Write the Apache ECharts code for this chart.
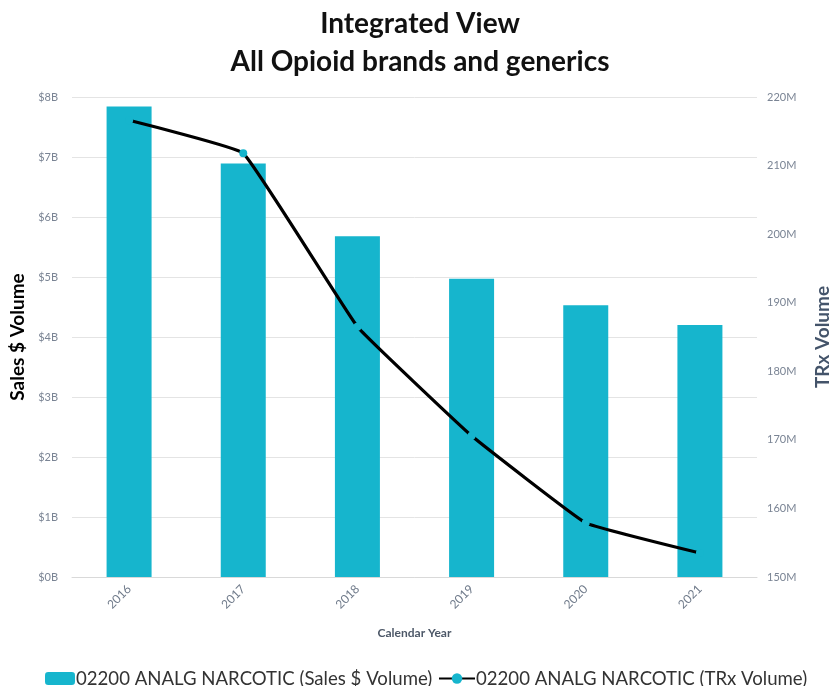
<!DOCTYPE html>
<html>
<head>
<meta charset="utf-8">
<script src="https://cdn.jsdelivr.net/npm/echarts@6/dist/echarts.min.js"></script>
<style>
  html, body { margin: 0; padding: 0; background: #ffffff; }
  #chart { width: 840px; height: 686px; }
</style>
</head>
<body>
<div id="chart"></div>
<script>
// Calendar years on the category axis
const years = ['2016', '2017', '2018', '2019', '2020', '2021'];
// Sales volume in billions of dollars (bars, left axis)
const salesBillions = [7.84, 6.89, 5.68, 4.97, 4.53, 4.20];
// Total prescriptions in millions (line, right axis)
const trxMillions = [216.6, 211.8, 186.5, 170.6, 157.9, 153.5];

const salesName = '02200 ANALG NARCOTIC (Sales $ Volume)';
const trxName = '02200 ANALG NARCOTIC (TRx Volume)';

const cyan = '#16b5cd';
const baseFont = 'Lato, "Open Sans", sans-serif';

const chart = echarts.init(document.getElementById('chart'), null, { renderer: 'canvas' });

chart.setOption({
  animation: false,
  backgroundColor: '#ffffff',
  textStyle: { fontFamily: baseFont },
  title: {
    text: 'Integrated View\nAll Opioid brands and generics',
    left: 'center',
    top: 0,
    textStyle: {
      fontFamily: baseFont,
      fontWeight: 'bold',
      fontSize: 28,
      lineHeight: 38,
      color: '#111111'
    }
  },
  legend: [
    {
      data: [salesName],
      left: 40,
      top: 664,
      itemWidth: 30,
      itemHeight: 13,
      itemGap: 0,
      textStyle: { fontSize: 18.6, color: '#333333', padding: [0, 0, 0, -4] }
    },
    {
      data: [trxName],
      left: 433,
      top: 664,
      itemWidth: 36,
      itemHeight: 13,
      itemGap: 0,
      textStyle: { fontSize: 18.6, color: '#333333', padding: [0, 0, 0, -4] }
    }
  ],
  grid: { left: 72, right: 83, top: 97, bottom: 109 },
  xAxis: {
    type: 'category',
    data: years,
    boundaryGap: true,
    name: 'Calendar Year',
    nameLocation: 'middle',
    nameGap: 50,
    nameTextStyle: { color: '#4d5868', fontSize: 12, fontWeight: 'bold' },
    axisLine: { lineStyle: { color: '#d9d9d9', width: 1 } },
    axisTick: { show: false },
    axisLabel: { rotate: 45, color: '#6f7a8a', fontSize: 12, margin: 10 }
  },
  yAxis: [
    {
      type: 'value',
      min: 0,
      max: 8,
      interval: 1,
      position: 'left',
      name: 'Sales $ Volume',
      nameLocation: 'middle',
      nameRotate: 90,
      nameGap: 42,
      nameTextStyle: { color: '#000000', fontSize: 19, fontWeight: 'bold' },
      axisLine: { show: false },
      axisTick: { show: false },
      axisLabel: {
        color: '#7a8494',
        fontSize: 11,
        margin: 14,
        formatter: v => '$' + v + 'B'
      },
      splitLine: { lineStyle: { color: '#e4e4e4', width: 1 } }
    },
    {
      type: 'value',
      min: 150,
      max: 220,
      interval: 10,
      position: 'right',
      name: 'TRx Volume',
      nameLocation: 'middle',
      nameRotate: 90,
      nameGap: 56,
      nameTextStyle: { color: '#44546a', fontSize: 19, fontWeight: 'bold' },
      axisLine: { show: false },
      axisTick: { show: false },
      axisLabel: {
        color: '#7a8494',
        fontSize: 11,
        margin: 10,
        formatter: v => v + 'M'
      },
      splitLine: { show: false }
    }
  ],
  series: [
    {
      name: salesName,
      type: 'bar',
      yAxisIndex: 0,
      data: salesBillions,
      barWidth: 45,
      itemStyle: { color: cyan },
      z: 2
    },
    {
      name: trxName,
      type: 'line',
      yAxisIndex: 1,
      data: trxMillions,
      smooth: 0.08,
      symbol: 'circle',
      symbolSize: 8,
      itemStyle: { color: cyan },
      lineStyle: { color: '#000000', width: 3.2 },
      z: 3
    }
  ]
});
</script>
</body>
</html>
